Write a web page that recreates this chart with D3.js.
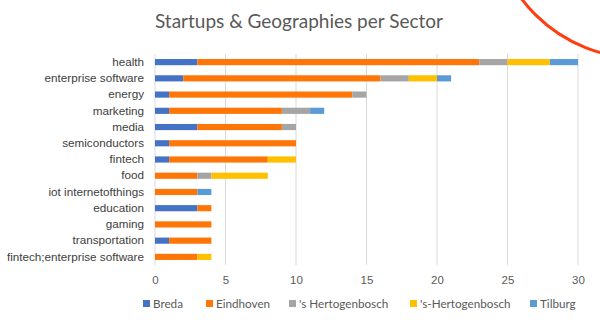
<!DOCTYPE html>
<html>
<head>
<meta charset="utf-8">
<script src="https://cdn.jsdelivr.net/npm/d3@7"></script>
<style>
  body { margin: 0; background: #fff; }
  svg { display: block; font-family: Lato, "Open Sans", sans-serif; }
</style>
</head>
<body>
<script>
var sectors = ["health", "enterprise software", "energy", "marketing", "media", "semiconductors",
  "fintech", "food", "iot internetofthings", "education", "gaming", "transportation",
  "fintech;enterprise software"];
var cities = ["Breda", "Eindhoven", "'s Hertogenbosch", "'s-Hertogenbosch", "Tilburg"];
var breda      = [3, 2, 1, 1, 3, 1, 1, 0, 0, 3, 0, 1, 0];
var eindhoven  = [20, 14, 13, 8, 6, 9, 7, 3, 3, 1, 4, 3, 3];
var sHertogen  = [2, 2, 1, 2, 1, 0, 0, 1, 0, 0, 0, 0, 0];
var sHertogen2 = [3, 2, 0, 0, 0, 0, 2, 4, 0, 0, 0, 0, 1];
var tilburg    = [2, 1, 0, 1, 0, 0, 0, 0, 1, 0, 0, 0, 0];
var xTicks = [0, 5, 10, 15, 20, 25, 30];

var colors = ["#4472C4", "#FF7608", "#A5A5A5", "#FFC000", "#5B9BD5"];

var width = 600, height = 332;
var margin = { top: 54, right: 22, bottom: 67, left: 155 };

var rows = sectors.map(function (s, i) {
  return { sector: s, "Breda": breda[i], "Eindhoven": eindhoven[i], "'s Hertogenbosch": sHertogen[i],
    "'s-Hertogenbosch": sHertogen2[i], "Tilburg": tilburg[i] };
});

var svg = d3.select("body").append("svg")
  .attr("width", width)
  .attr("height", height);

// decorative arc in the corner
svg.append("circle")
  .attr("cx", 640).attr("cy", -90).attr("r", 148)
  .attr("fill", "none")
  .attr("stroke", "#FF3D12")
  .attr("stroke-width", 3);

svg.append("text")
  .attr("x", 299).attr("y", 28)
  .attr("text-anchor", "middle")
  .attr("fill", "#595959")
  .style("font-size", "19px")
  .text("Startups & Geographies per Sector");

var x = d3.scaleLinear().domain([0, 30]).range([margin.left, 578]);
var y = d3.scaleBand().domain(sectors).range([54, 265]).paddingInner(0.62).paddingOuter(0.31);

// gridlines
svg.append("g").selectAll("line")
  .data(xTicks).enter().append("line")
  .attr("x1", function (d) { return x(d); })
  .attr("x2", function (d) { return x(d); })
  .attr("y1", 54).attr("y2", 265)
  .attr("stroke", "#D9D9D9")
  .attr("stroke-width", 1);

var xAxis = d3.axisBottom(x).tickValues(xTicks).tickSize(0).tickPadding(0);
var gx = svg.append("g")
  .attr("transform", "translate(0,276)")
  .call(xAxis);
gx.select(".domain").remove();
gx.selectAll("text")
  .attr("fill", "#595959")
  .attr("dy", "0.71em")
  .style("font-size", "11.5px");

var yAxis = d3.axisLeft(y).tickSize(0).tickPadding(11);
var gy = svg.append("g")
  .attr("transform", "translate(" + margin.left + ",0)")
  .call(yAxis);
gy.select(".domain").remove();
gy.selectAll("text")
  .attr("fill", "#404040")
  .style("font-size", "11.7px");

var stack = d3.stack().keys(cities);
var series = stack(rows);

svg.append("g").selectAll("g")
  .data(series).enter().append("g")
  .attr("fill", function (d, i) { return colors[i]; })
  .selectAll("rect")
  .data(function (d) { return d; }).enter().append("rect")
  .attr("x", function (d) { return x(d[0]); })
  .attr("y", function (d) { return y(d.data.sector); })
  .attr("width", function (d) { return x(d[1]) - x(d[0]); })
  .attr("height", y.bandwidth());

// legend
var legendX = [143, 206, 289, 410, 530];
var legend = svg.append("g").selectAll("g")
  .data(cities).enter().append("g")
  .attr("transform", function (d, i) { return "translate(" + legendX[i] + ",304)"; });
legend.append("rect")
  .attr("x", 0).attr("y", -4)
  .attr("width", 7).attr("height", 7)
  .attr("fill", function (d, i) { return colors[i]; });
legend.append("text")
  .attr("x", 10).attr("y", 0)
  .attr("dy", "0.35em")
  .attr("fill", "#595959")
  .style("font-size", "11.7px")
  .text(function (d) { return d; });
</script>
</body>
</html>
